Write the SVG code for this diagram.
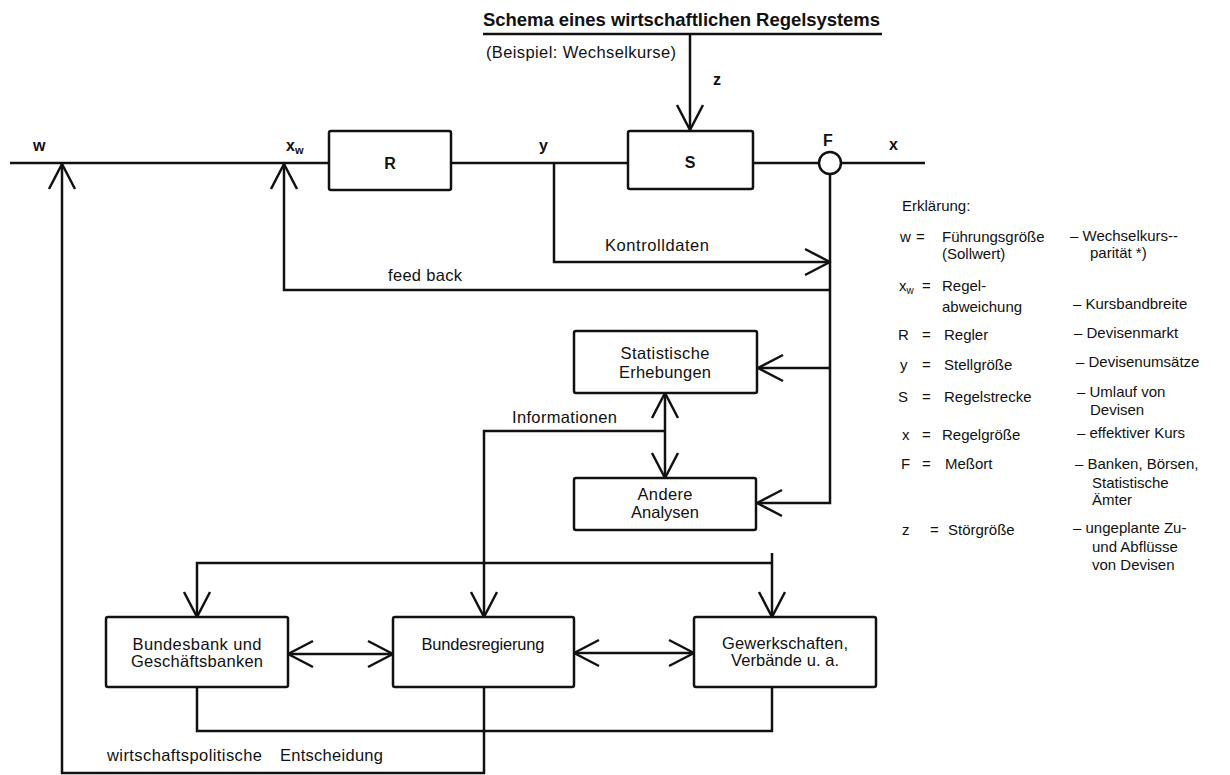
<svg xmlns="http://www.w3.org/2000/svg" width="1230" height="775" viewBox="0 0 1230 775">
<style>
text{font-family:"Liberation Sans",Arial,sans-serif;fill:#111}
.box{fill:#fff;stroke:#111;stroke-width:2.5}
.ln{fill:none;stroke:#111;stroke-width:2.5;stroke-linejoin:miter}
.node{font-size:16.5px;text-anchor:middle}
.lbl{font-size:16.5px}
.sym{font-size:16px;font-weight:bold}
.leg{font-size:15px}
</style>
<defs>
<marker id="ah" markerUnits="userSpaceOnUse" viewBox="-30 -16 34 32" refX="0" refY="0" markerWidth="34" markerHeight="32" orient="auto-start-reverse" overflow="visible">
<path d="M-25,-13 L0,0 L-25,13" fill="none" stroke="#111" stroke-width="2.5" stroke-linejoin="round"/>
</marker>
</defs>
<rect width="1230" height="775" fill="#fff"/>
<g id="title">
<text x="483" y="26" font-size="18.5" font-weight="bold" textLength="397">Schema eines wirtschaftlichen Regelsystems</text>
<line x1="483" y1="34" x2="882" y2="34" class="ln"/>
<text x="486" y="58" class="lbl" textLength="190">(Beispiel: Wechselkurse)</text>
</g>
<g id="connectors">
<path class="ln" d="M10,163 H329 M451,163 H628 M753,163 H819 M841,163 H925"/>
<path class="ln" d="M690,34 V130" marker-end="url(#ah)"/>
<path class="ln" d="M484,687 V773 H62 V164" marker-end="url(#ah)"/>
<path class="ln" d="M830,290 H284 V164" marker-end="url(#ah)"/>
<path class="ln" d="M554,163 V262 H830" marker-end="url(#ah)"/>
<path class="ln" d="M830,174 V503 H757" marker-end="url(#ah)"/>
<path class="ln" d="M830,368 H758" marker-end="url(#ah)"/>
<path class="ln" d="M665,393 V478" marker-start="url(#ah)" marker-end="url(#ah)"/>
<path class="ln" d="M665,431 H484 V617" marker-end="url(#ah)"/>
<path class="ln" d="M772,553 V617" marker-end="url(#ah)"/>
<path class="ln" d="M772,563 H197 V617" marker-end="url(#ah)"/>
<path class="ln" d="M197,687 V731 H772 V687"/>
<path class="ln" d="M288,654 H393" marker-start="url(#ah)" marker-end="url(#ah)"/>
<path class="ln" d="M574,653 H694" marker-start="url(#ah)" marker-end="url(#ah)"/>
</g>
<g id="labels">
<text x="33" y="151" class="sym">w</text>
<text x="286" y="151" class="sym">x<tspan font-size="11" dy="3">w</tspan></text>
<text x="539" y="151" class="sym">y</text>
<text x="823" y="146" class="sym">F</text>
<text x="889" y="150" class="sym">x</text>
<text x="713" y="85" class="sym">z</text>
<text x="605" y="251" class="lbl" textLength="104">Kontrolldaten</text>
<text x="388" y="281" class="lbl" textLength="74">feed back</text>
<text x="512" y="423" class="lbl" textLength="105">Informationen</text>
<text y="761" class="lbl"><tspan x="107" textLength="155">wirtschaftspolitische</tspan><tspan x="280" textLength="103">Entscheidung</tspan></text>
</g>
<g id="node-R">
<rect class="box" x="329" y="131" width="122" height="59" rx="2"/>
<text x="390" y="169" class="sym" text-anchor="middle">R</text>
</g>
<g id="node-S">
<rect class="box" x="628" y="131" width="125" height="58" rx="2"/>
<text x="690" y="168" class="sym" text-anchor="middle">S</text>
</g>
<g id="node-F">
<circle cx="830" cy="163" r="11" fill="#fff" stroke="#111" stroke-width="2.5"/>
</g>
<g id="node-stat">
<rect class="box" x="574" y="331" width="183" height="62" rx="2"/>
<text x="665" y="359" class="node" textLength="89">Statistische</text>
<text x="665" y="378" class="node" textLength="92">Erhebungen</text>
</g>
<g id="node-andere">
<rect class="box" x="574" y="478" width="182" height="52" rx="2"/>
<text x="665" y="500" class="node" textLength="55">Andere</text>
<text x="665" y="518" class="node" textLength="68">Analysen</text>
</g>
<g id="node-bundesbank">
<rect class="box" x="106" y="617" width="182" height="70" rx="2"/>
<text x="197" y="650" class="node" textLength="129">Bundesbank und</text>
<text x="197" y="667" class="node" textLength="132">Geschäftsbanken</text>
</g>
<g id="node-bundesregierung">
<rect class="box" x="393" y="617" width="181" height="70" rx="2"/>
<text x="483" y="650" class="node" textLength="123">Bundesregierung</text>
</g>
<g id="node-gewerkschaften">
<rect class="box" x="694" y="617" width="182" height="70" rx="2"/>
<text x="785" y="649" class="node" textLength="126">Gewerkschaften,</text>
<text x="785" y="666" class="node" textLength="108">Verbände u. a.</text>
</g>
<g id="legend" class="leg">
<text x="902" y="211" class="leg">Erklärung:</text>
<text x="900" y="242" class="leg">w</text><text x="916" y="242" class="leg">=</text><text x="942" y="242" class="leg">Führungsgröße</text><text x="1070" y="241" class="leg">– Wechselkurs--</text>
<text x="942" y="259" class="leg">(Sollwert)</text><text x="1090" y="258" class="leg">parität *)</text>
<text x="899" y="291" class="leg">x<tspan font-size="10" dy="3">w</tspan></text><text x="922" y="291" class="leg">=</text><text x="942" y="291" class="leg">Regel-</text>
<text x="942" y="312" class="leg">abweichung</text><text x="1073" y="309" class="leg">– Kursbandbreite</text>
<text x="898" y="340" class="leg">R</text><text x="922" y="340" class="leg">=</text><text x="944" y="340" class="leg">Regler</text><text x="1074" y="338" class="leg">– Devisenmarkt</text>
<text x="900" y="370" class="leg">y</text><text x="922" y="370" class="leg">=</text><text x="944" y="370" class="leg">Stellgröße</text><text x="1076" y="367" class="leg">– Devisenumsätze</text>
<text x="898" y="402" class="leg">S</text><text x="922" y="402" class="leg">=</text><text x="944" y="402" class="leg">Regelstrecke</text><text x="1077" y="397" class="leg">– Umlauf von</text>
<text x="1090" y="415" class="leg">Devisen</text>
<text x="902" y="440" class="leg">x</text><text x="922" y="440" class="leg">=</text><text x="942" y="440" class="leg">Regelgröße</text><text x="1077" y="438" class="leg">– effektiver Kurs</text>
<text x="901" y="469" class="leg">F</text><text x="922" y="469" class="leg">=</text><text x="945" y="469" class="leg">Meßort</text><text x="1075" y="469" class="leg">– Banken, Börsen,</text>
<text x="1092" y="488" class="leg">Statistische</text>
<text x="1092" y="505" class="leg">Ämter</text>
<text x="902" y="535" class="leg">z</text><text x="930" y="535" class="leg">=</text><text x="948" y="535" class="leg">Störgröße</text><text x="1073" y="533" class="leg">– ungeplante Zu-</text>
<text x="1092" y="552" class="leg">und Abflüsse</text>
<text x="1092" y="570" class="leg">von Devisen</text>
</g>
</svg>
